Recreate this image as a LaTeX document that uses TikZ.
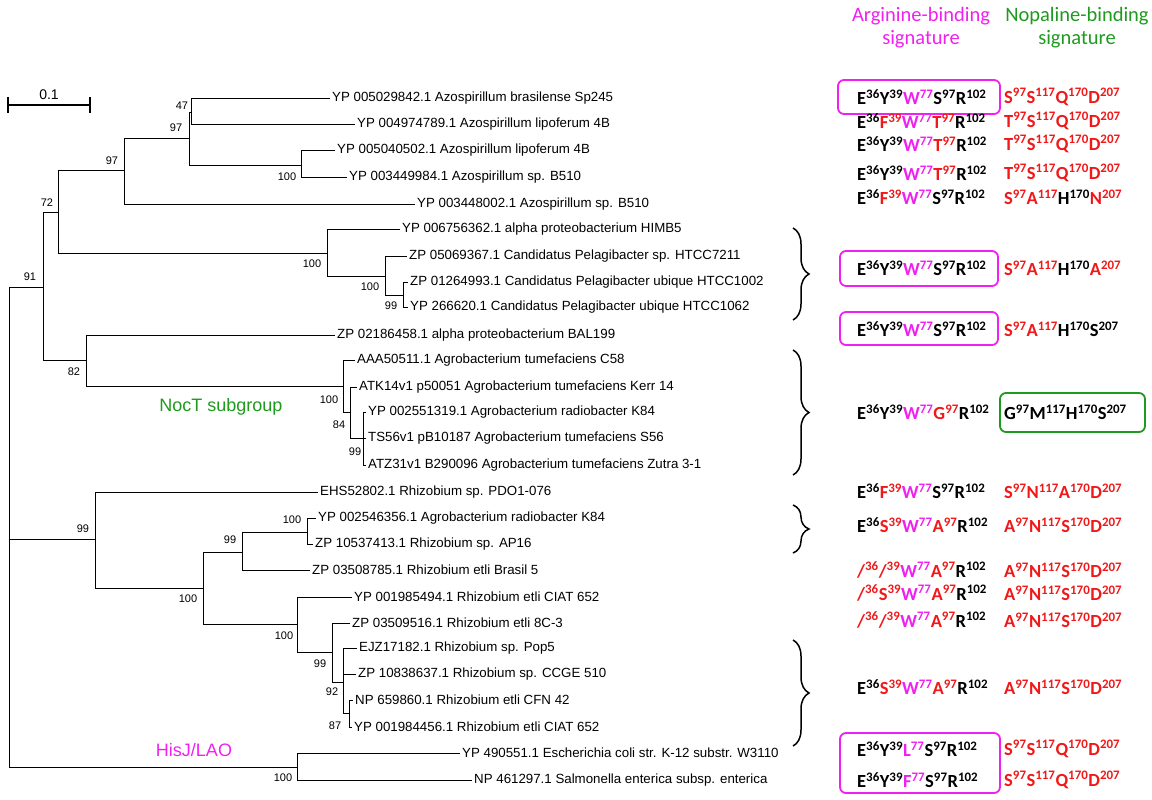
\documentclass[tikz,border=0pt]{standalone}
\usepackage{fontspec}
\setmainfont{Liberation Sans}
\newfontfamily\calib{Carlito}
\usetikzlibrary{decorations.pathreplacing}
\definecolor{mag}{HTML}{F020F0}
\definecolor{rd}{HTML}{F01818}
\definecolor{grn}{HTML}{1E9A1E}
\newcommand\sgK[2]{\textcolor{black}{#1\textsuperscript{#2}}}
\newcommand\sgR[2]{\textcolor{rd}{#1\textsuperscript{#2}}}
\newcommand\sgM[2]{\textcolor{mag}{#1\textsuperscript{#2}}}
\begin{document}
\begin{tikzpicture}[x=1pt,y=-1pt,
  leaf/.style={anchor=west,inner sep=2pt,font=\fontsize{13.3}{14}\selectfont},
  bs/.style={inner sep=0pt,font=\fontsize{11}{12}\selectfont},
  br/.style={line width=0.8pt},
  sig/.style={anchor=west,inner sep=0pt,font=\calib\bfseries\fontsize{18.5}{20}\selectfont},
  hd/.style={align=center,font=\calib\fontsize{20.5}{23}\selectfont},
  box/.style={rounded corners=6pt,line width=1.8pt},
  brc/.style={decorate,decoration={brace,amplitude=16pt},line width=1.5pt}]
\useasboundingbox (0,0) rectangle (1152,800);
% internal nodes
\coordinate (root) at (9,539);
\coordinate (n91) at (43,287);
\coordinate (n72) at (58,212);
\coordinate (n97a) at (124,170);
\coordinate (n97b) at (189,138);
\coordinate (n47) at (191,112);
\coordinate (n100a) at (301,165);
\coordinate (n100p) at (327,253);
\coordinate (n100q) at (385,276);
\coordinate (n99p) at (403,295);
\coordinate (n82) at (86,360);
\coordinate (nA) at (343,386);
\coordinate (nB) at (350,412);
\coordinate (nC) at (363,438);
\coordinate (n99r) at (95,539);
\coordinate (n100r) at (203,588);
\coordinate (n99s) at (242,552);
\coordinate (n100u) at (307,532);
\coordinate (n100t) at (297,624);
\coordinate (n99t) at (332,652);
\coordinate (n92) at (343,682);
\coordinate (n87) at (349,713);
\coordinate (nH) at (297,767);
% leaves
\node[leaf] (l1) at (330,98) {YP 005029842.1 Azospirillum brasilense Sp245};
\node[leaf] (l2) at (355,124) {YP 004974789.1 Azospirillum lipoferum 4B};
\node[leaf] (l3) at (335,150) {YP 005040502.1 Azospirillum lipoferum 4B};
\node[leaf] (l4) at (347,177) {YP 003449984.1 Azospirillum sp. B510};
\node[leaf] (l5) at (415,204) {YP 003448002.1 Azospirillum sp. B510};
\node[leaf] (l6) at (400,229) {YP 006756362.1 alpha proteobacterium HIMB5};
\node[leaf] (l7) at (407,256) {ZP 05069367.1 Candidatus Pelagibacter sp. HTCC7211};
\node[leaf] (l8) at (408,282) {ZP 01264993.1 Candidatus Pelagibacter ubique HTCC1002};
\node[leaf] (l9) at (408,307) {YP 266620.1 Candidatus Pelagibacter ubique HTCC1062};
\node[leaf] (l10) at (335,335) {ZP 02186458.1 alpha proteobacterium BAL199};
\node[leaf] (l11) at (355,360) {AAA50511.1 Agrobacterium tumefaciens C58};
\node[leaf] (l12) at (357,387) {ATK14v1 p50051 Agrobacterium tumefaciens Kerr 14};
\node[leaf] (l13) at (366,412) {YP 002551319.1 Agrobacterium radiobacter K84};
\node[leaf] (l14) at (366,438) {TS56v1 pB10187 Agrobacterium tumefaciens S56};
\node[leaf] (l15) at (366,465) {ATZ31v1 B290096 Agrobacterium tumefaciens Zutra 3-1};
\node[leaf] (l16) at (318,492) {EHS52802.1 Rhizobium sp. PDO1-076};
\node[leaf] (l17) at (316,518) {YP 002546356.1 Agrobacterium radiobacter K84};
\node[leaf] (l18) at (313,544) {ZP 10537413.1 Rhizobium sp. AP16};
\node[leaf] (l19) at (310,570) {ZP 03508785.1 Rhizobium etli Brasil 5};
\node[leaf] (l20) at (352,597) {YP 001985494.1 Rhizobium etli CIAT 652};
\node[leaf] (l21) at (350,623) {ZP 03509516.1 Rhizobium etli 8C-3};
\node[leaf] (l22) at (357,648) {EJZ17182.1 Rhizobium sp. Pop5};
\node[leaf] (l23) at (356,674) {ZP 10838637.1 Rhizobium sp. CCGE 510};
\node[leaf] (l24) at (353,700) {NP 659860.1 Rhizobium etli CFN 42};
\node[leaf] (l25) at (352,727) {YP 001984456.1 Rhizobium etli CIAT 652};
\node[leaf] (l26) at (460,753) {YP 490551.1 Escherichia coli str. K-12 substr. W3110};
\node[leaf] (l27) at (472,780) {NP 461297.1 Salmonella enterica subsp. enterica};
% branches
\draw[br] (root) |- (n91) (root) |- (n99r) (root) |- (nH)
 (n91) |- (n72) (n91) |- (n82)
 (n72) |- (n97a) (n72) |- (n100p)
 (n97a) |- (n97b) (n97a) |- (l5.west)
 (n97b) |- (n47) (n97b) |- (n100a)
 (n47) |- (l1.west) (n47) |- (l2.west)
 (n100a) |- (l3.west) (n100a) |- (l4.west)
 (n100p) |- (l6.west) (n100p) |- (n100q)
 (n100q) |- (l7.west) (n100q) |- (n99p)
 (n99p) |- (l8.west) (n99p) |- (l9.west)
 (n82) |- (l10.west) (n82) |- (nA)
 (nA) |- (l11.west) (nA) |- (nB)
 (nB) |- (l12.west) (nB) |- (nC)
 (nC) |- (l13.west) (nC) -- (l14.west) (nC) |- (l15.west)
 (n99r) |- (l16.west) (n99r) |- (n100r)
 (n100r) |- (n99s) (n100r) |- (n100t)
 (n99s) |- (n100u) (n99s) |- (l19.west)
 (n100u) |- (l17.west) (n100u) |- (l18.west)
 (n100t) |- (l20.west) (n100t) |- (n99t)
 (n99t) |- (l21.west) (n99t) |- (n92)
 (n92) |- (l22.west) (n92) |- (l23.west) (n92) |- (n87)
 (n87) |- (l24.west) (n87) |- (l25.west)
 (nH) |- (l26.west) (nH) |- (l27.west);
% bootstrap values
\node[bs] (b1) at (182,106) {47};
\node[bs] (b2) at (176,128) {97};
\node[bs] (b3) at (112,161) {97};
\node[bs] (b4) at (287,177) {100};
\node[bs] (b5) at (47,203) {72};
\node[bs] (b6) at (312,264) {100};
\node[bs] (b7) at (370,287) {100};
\node[bs] (b8) at (391,306) {99};
\node[bs] (b9) at (30,277) {91};
\node[bs] (b10) at (74,372) {82};
\node[bs] (b11) at (329,400) {100};
\node[bs] (b12) at (339,425) {84};
\node[bs] (b13) at (355,452) {99};
\node[bs] (b14) at (83,529) {99};
\node[bs] (b15) at (292,520) {100};
\node[bs] (b16) at (230,540) {99};
\node[bs] (b17) at (188,599) {100};
\node[bs] (b18) at (284,636) {100};
\node[bs] (b19) at (320,664) {99};
\node[bs] (b20) at (332,692) {92};
\node[bs] (b21) at (335,726) {87};
\node[bs] (b22) at (283,778) {100};
% scale bar
\coordinate (sb1) at (8,105); \coordinate (sb2) at (90,105);
\draw[line width=1.2pt] (sb1) -- (sb2) (8,97) -- (8,113) (90,97) -- (90,113);
\node[font=\fontsize{14}{16}\selectfont] (sbl) at (49,95) {0.1};
% group labels
\node[text=grn,font=\fontsize{18}{20}\selectfont] (noct) at (221,407) {NocT subgroup};
\node[text=mag,font=\fontsize{18}{20}\selectfont] (hisj) at (194,750) {HisJ/LAO};
% headers
\node[hd,text=mag] (h1) at (921,28) {Arginine-binding\\signature};
\node[hd,text=grn] (h2) at (1077,28) {Nopaline-binding\\signature};
% braces
\draw[brc] (793,228) -- (793,320);
\draw[brc] (793,350) -- (793,475);
\draw[brc] (793,505) -- (793,553);
\draw[brc] (793,640) -- (793,746);
% boxes
\draw[box,mag] (838,80) rectangle (1000,114);
\draw[box,mag] (840,251) rectangle (998,286);
\draw[box,mag] (840,312) rectangle (998,345);
\draw[box,grn] (1000,393) rectangle (1145,432);
\draw[box,mag] (840,733) rectangle (1000,793);
% signatures
\newcommand\sigrow[4]{\node[sig] (#1a) at (857,#2) {#3}; \node[sig] (#1b) at (1004,#2) {#4};}
\sigrow{s1}{97}{\sgK{E}{36}\sgK{Y}{39}\sgM{W}{77}\sgK{S}{97}\sgK{R}{102}}{\sgR{S}{97}\sgR{S}{117}\sgR{Q}{170}\sgR{D}{207}}
\sigrow{s2}{121}{\sgK{E}{36}\sgR{F}{39}\sgM{W}{77}\sgR{T}{97}\sgK{R}{102}}{\sgR{T}{97}\sgR{S}{117}\sgR{Q}{170}\sgR{D}{207}}
\sigrow{s3}{144}{\sgK{E}{36}\sgK{Y}{39}\sgM{W}{77}\sgR{T}{97}\sgK{R}{102}}{\sgR{T}{97}\sgR{S}{117}\sgR{Q}{170}\sgR{D}{207}}
\sigrow{s4}{173}{\sgK{E}{36}\sgK{Y}{39}\sgM{W}{77}\sgR{T}{97}\sgK{R}{102}}{\sgR{T}{97}\sgR{S}{117}\sgR{Q}{170}\sgR{D}{207}}
\sigrow{s5}{197}{\sgK{E}{36}\sgR{F}{39}\sgM{W}{77}\sgK{S}{97}\sgK{R}{102}}{\sgR{S}{97}\sgR{A}{117}\sgK{H}{170}\sgR{N}{207}}
\sigrow{s6}{268}{\sgK{E}{36}\sgK{Y}{39}\sgM{W}{77}\sgK{S}{97}\sgK{R}{102}}{\sgR{S}{97}\sgR{A}{117}\sgK{H}{170}\sgR{A}{207}}
\sigrow{s7}{329}{\sgK{E}{36}\sgK{Y}{39}\sgM{W}{77}\sgK{S}{97}\sgK{R}{102}}{\sgR{S}{97}\sgR{A}{117}\sgK{H}{170}\sgK{S}{207}}
\sigrow{s8}{412}{\sgK{E}{36}\sgK{Y}{39}\sgM{W}{77}\sgR{G}{97}\sgK{R}{102}}{\sgK{G}{97}\sgK{M}{117}\sgK{H}{170}\sgK{S}{207}}
\sigrow{s9}{491}{\sgK{E}{36}\sgR{F}{39}\sgM{W}{77}\sgK{S}{97}\sgK{R}{102}}{\sgR{S}{97}\sgR{N}{117}\sgR{A}{170}\sgR{D}{207}}
\sigrow{s10}{525}{\sgK{E}{36}\sgR{S}{39}\sgM{W}{77}\sgR{A}{97}\sgK{R}{102}}{\sgR{A}{97}\sgR{N}{117}\sgR{S}{170}\sgR{D}{207}}
\sigrow{s11}{570}{\sgR{/}{36}\sgR{/}{39}\sgM{W}{77}\sgR{A}{97}\sgK{R}{102}}{\sgR{A}{97}\sgR{N}{117}\sgR{S}{170}\sgR{D}{207}}
\sigrow{s12}{593}{\sgR{/}{36}\sgR{S}{39}\sgM{W}{77}\sgR{A}{97}\sgK{R}{102}}{\sgR{A}{97}\sgR{N}{117}\sgR{S}{170}\sgR{D}{207}}
\sigrow{s13}{620}{\sgR{/}{36}\sgR{/}{39}\sgM{W}{77}\sgR{A}{97}\sgK{R}{102}}{\sgR{A}{97}\sgR{N}{117}\sgR{S}{170}\sgR{D}{207}}
\sigrow{s14}{687}{\sgK{E}{36}\sgR{S}{39}\sgM{W}{77}\sgR{A}{97}\sgK{R}{102}}{\sgR{A}{97}\sgR{N}{117}\sgR{S}{170}\sgR{D}{207}}
\sigrow{s15}{749}{\sgK{E}{36}\sgK{Y}{39}\sgM{L}{77}\sgK{S}{97}\sgK{R}{102}}{\sgR{S}{97}\sgR{S}{117}\sgR{Q}{170}\sgR{D}{207}}
\sigrow{s16}{780}{\sgK{E}{36}\sgK{Y}{39}\sgM{F}{77}\sgK{S}{97}\sgK{R}{102}}{\sgR{S}{97}\sgR{S}{117}\sgR{Q}{170}\sgR{D}{207}}
\end{tikzpicture}
\end{document}
